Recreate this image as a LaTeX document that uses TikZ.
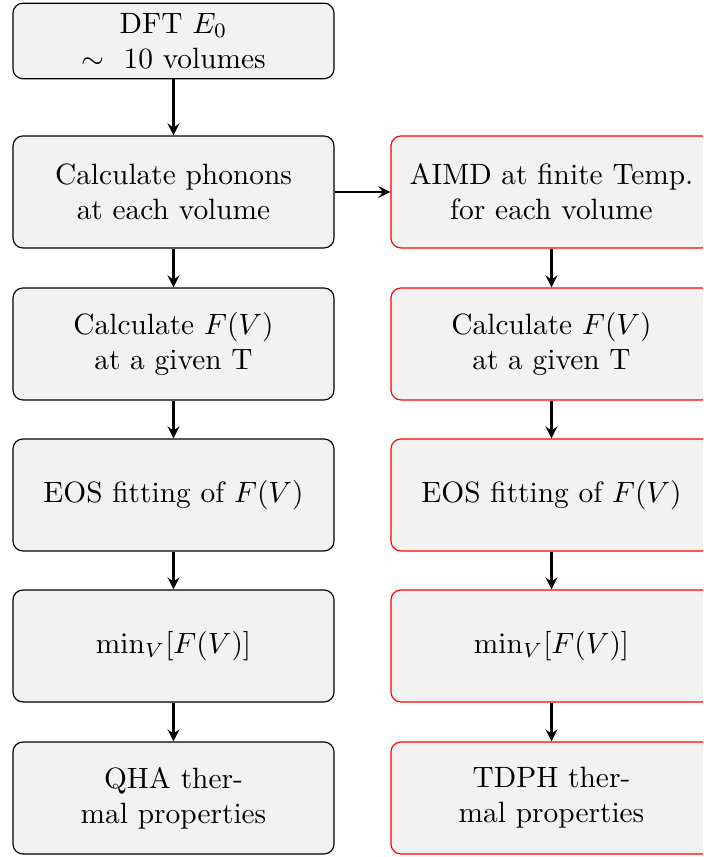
\documentclass[tikz,border=0pt]{standalone}
\usetikzlibrary{arrows.meta}
\tikzset{
  stepbox/.style={draw, rounded corners=0.12cm, fill=gray!10, minimum width=3.84cm,
    minimum height=1.34cm, align=center},
  aimdbox/.style={stepbox, draw=red},
  flow/.style={-stealth, thick}
}
\begin{document}
\begin{tikzpicture}
      \useasboundingbox (0,0) rectangle (8.408,-10.25);
      \clip (0,0) rectangle (8.408,-10.25);
      \draw
        (2.075,-0.490) node[stepbox, minimum height=0.885cm] (dft){DFT $E_0$\\$\sim$~ 10 volumes}
        (2.075,-2.296) node[stepbox] (phon){Calculate phonons\\at each volume}
        (2.075,-4.114) node[stepbox] (fvq){Calculate $F(V)$\\at a given T}
        (2.075,-5.920) node[stepbox] (eosq){EOS fitting of $F(V)$}
        (2.075,-7.726) node[stepbox] (minq){$\min_V[F(V)]$}
        (2.075,-9.544) node[stepbox] (qha){QHA ther-\\mal properties}
        (6.596,-2.296) node[aimdbox] (aimd){AIMD at finite Temp.\\for each volume}
        (6.596,-4.114) node[aimdbox] (fvt){Calculate $F(V)$\\at a given T}
        (6.596,-5.920) node[aimdbox] (eost){EOS fitting of $F(V)$}
        (6.596,-7.726) node[aimdbox] (mint){$\min_V[F(V)]$}
        (6.596,-9.544) node[aimdbox] (tdph){TDPH ther-\\mal properties};
      \begin{scope}[flow]
        \draw (dft) to (phon);
        \draw (phon) to (fvq);
        \draw (fvq) to (eosq);
        \draw (eosq) to (minq);
        \draw (minq) to (qha);
        \draw (phon) to (aimd);
        \draw (aimd) to (fvt);
        \draw (fvt) to (eost);
        \draw (eost) to (mint);
        \draw (mint) to (tdph);
      \end{scope}
    \end{tikzpicture}
\end{document}
